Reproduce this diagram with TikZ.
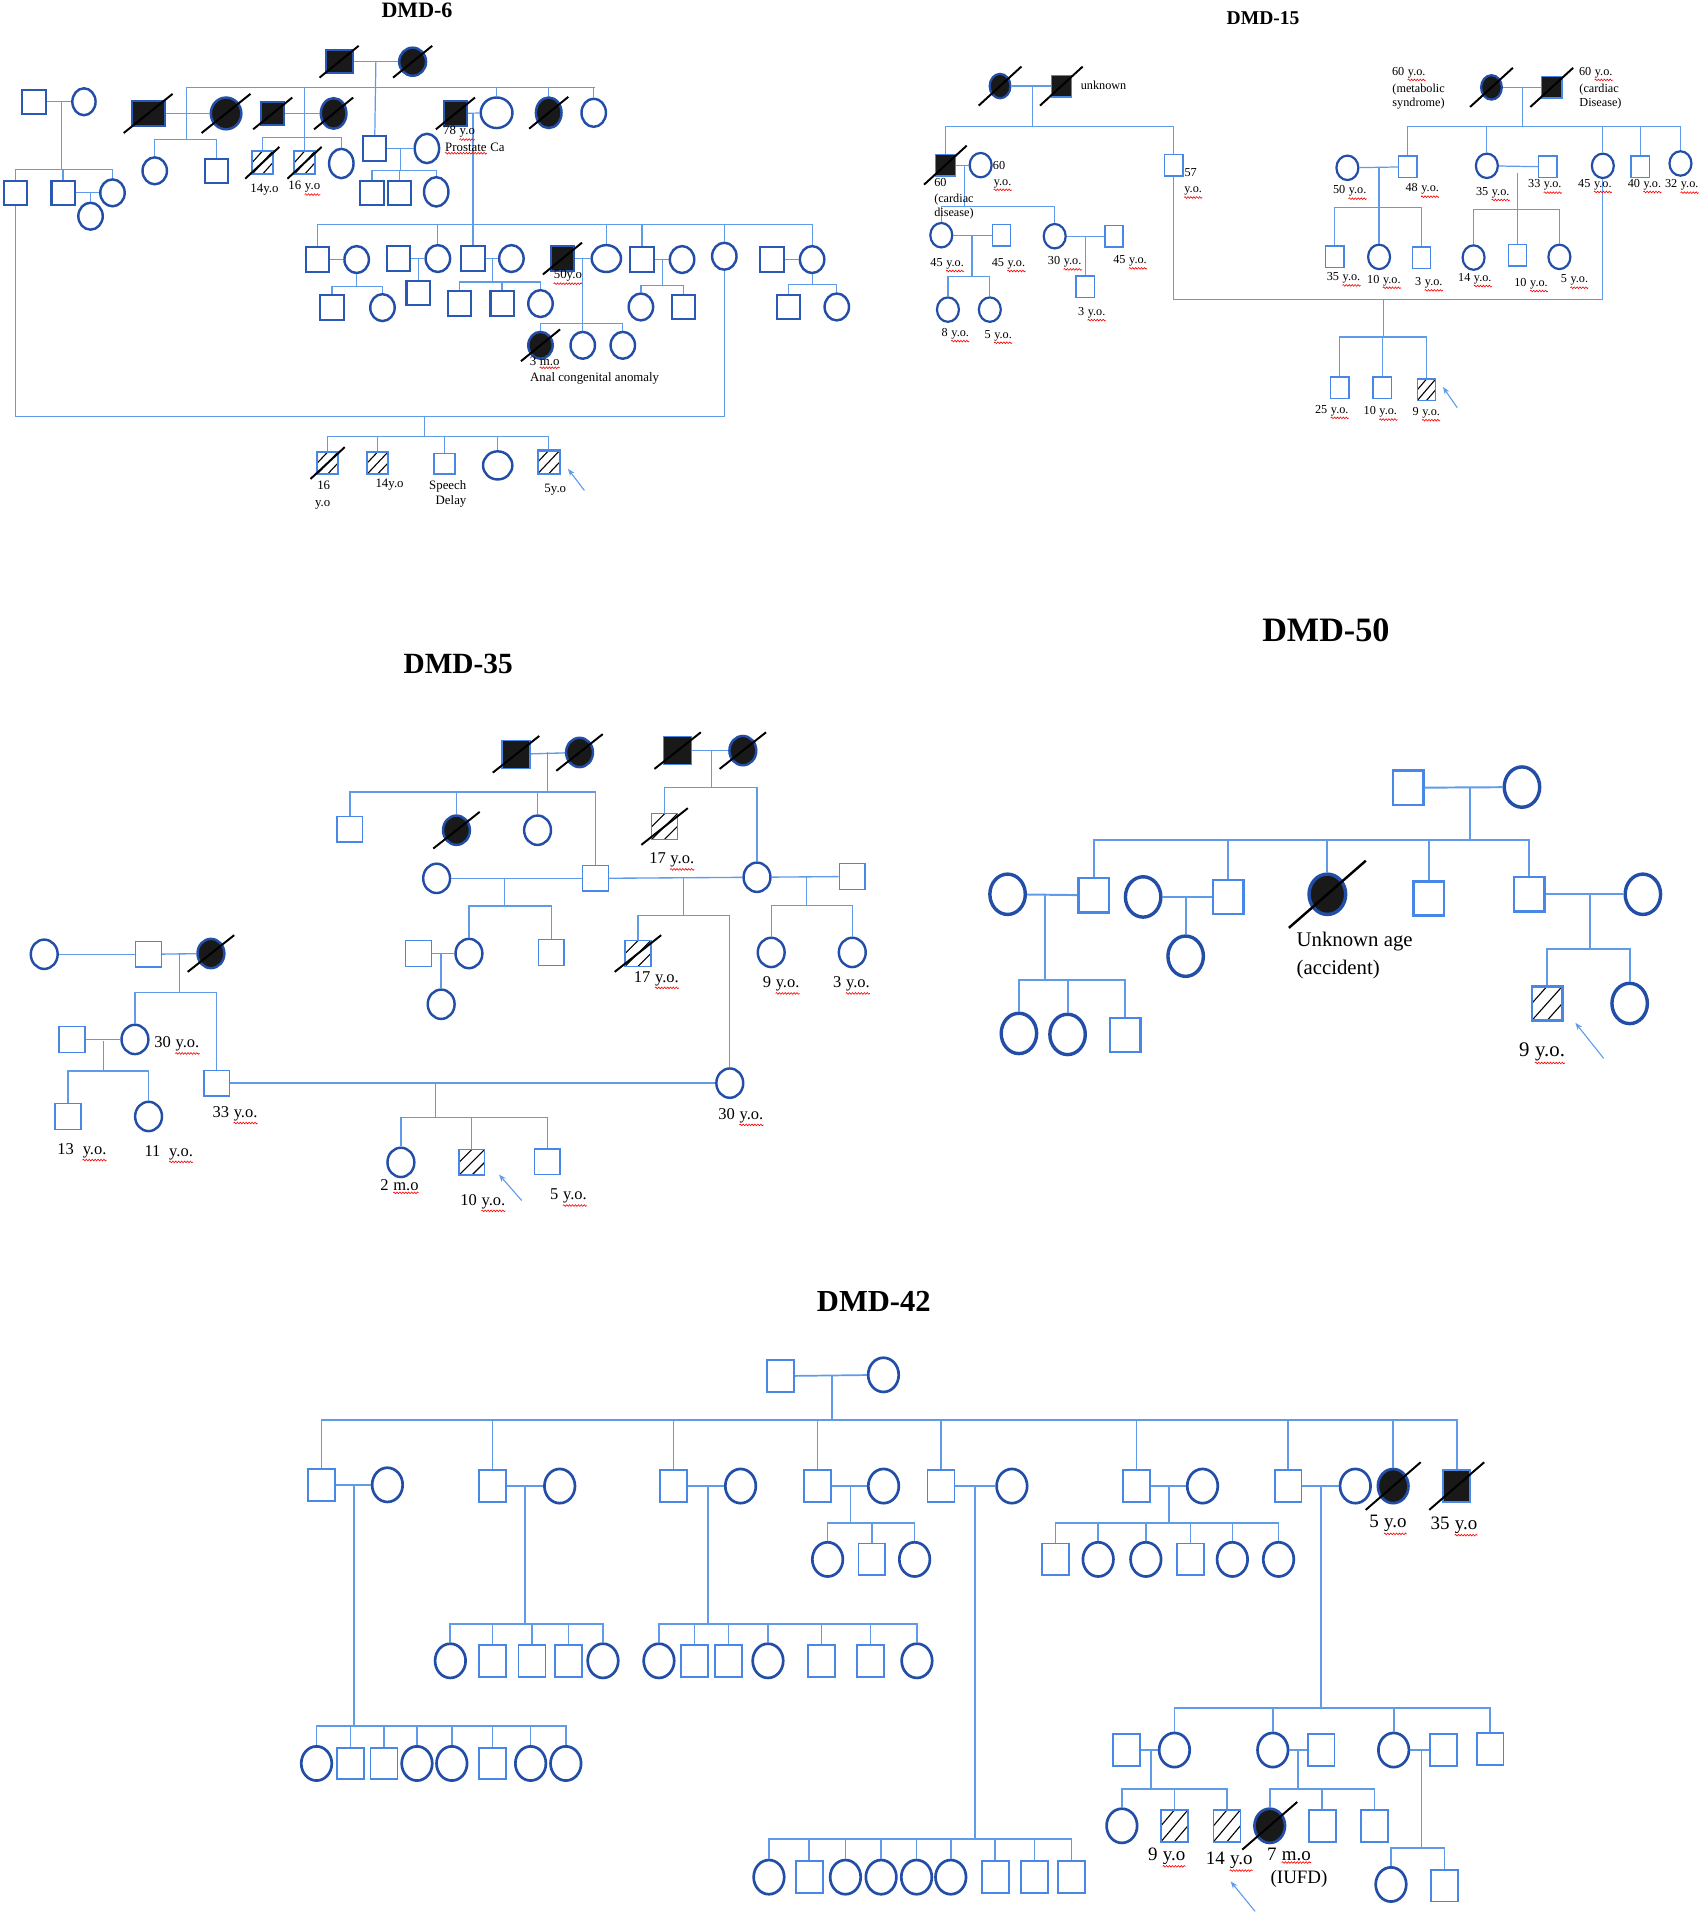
\documentclass[tikz,border=0pt]{standalone}
\usepackage{fontspec}
\setmainfont{Liberation Serif}
\usepackage{tikz}
\usetikzlibrary{calc}
\usetikzlibrary{shapes.geometric}
\usetikzlibrary{arrows.meta}
\usetikzlibrary{decorations.pathmorphing}

\definecolor{lineblue}{RGB}{95,155,235}
\definecolor{sqblue}{RGB}{72,135,232}
\definecolor{ciblue}{RGB}{35,78,168}

\newcommand\wavy[1]{\tikz[baseline=(wv.base)]{\node[inner sep=0pt, text=black] (wv) {#1};
  \draw[red, line width=0.5pt, decorate, decoration={snake, amplitude=0.7pt, segment length=2.4pt}]
    ([yshift=-1.5pt]wv.south west) -- ([yshift=-1.5pt]wv.south east);}}

\tikzset{
  male/.style={rectangle, draw=sqblue, line width=1.2pt, inner sep=0pt},
  female/.style={ellipse, draw=ciblue, line width=1.8pt, inner sep=0pt},
  aff/.style={fill=black!90},
  ma/.style={male,aff},
  fa/.style={female,aff},
  mh/.style={male,hatch},
  hatch/.style={path picture={
    \draw[black, line width=0.9pt]
      (path picture bounding box.south west) -- (path picture bounding box.north east)
      ($(path picture bounding box.south west)!0.5!(path picture bounding box.south east)$) -- ($(path picture bounding box.south east)!0.5!(path picture bounding box.north east)$)
      ($(path picture bounding box.south west)!0.5!(path picture bounding box.north west)$) -- ($(path picture bounding box.north west)!0.5!(path picture bounding box.north east)$);
  }},
  dead/.style={draw=black, line width=1.6pt},
  lab/.style={text=black, inner sep=0pt},
  ttl/.style={text=black, inner sep=0pt},
  arr/.style={-{Stealth[length=6pt,width=4.5pt]}, line width=0.9pt}
}

\begin{document}
\begin{tikzpicture}[x=1pt, y=-1pt, color=lineblue, line width=1pt]
\useasboundingbox (0,0) rectangle (1392,1567);

% ---------------- DMD-6
\begin{scope}[x=0.449pt, y=-0.273pt,
  male/.append style={minimum width=19pt, minimum height=20pt, draw=ciblue!80!sqblue, line width=1.7pt},
  female/.append style={minimum width=20pt, minimum height=22pt, line width=2pt},
  lab/.append style={font=\fontsize{10.5}{11}\selectfont}]
  \node[ttl, font=\bfseries\fontsize{18}{18}\selectfont] (At) at (760,30) {DMD-6};
  % generation I and II
  \node[ma, minimum width=22pt, minimum height=19pt] (A1) at (618,185) {};
  \node[fa, minimum width=22pt, minimum height=23pt] (A2) at (752,185) {};
  \node[male] (A3) at (62,305) {};
  \node[female, minimum width=19pt] (A4) at (153,305) {};
  \node[ma, minimum width=27pt] (A5) at (270,340) {};
  \node[fa, minimum width=25pt, minimum height=26pt] (A6) at (412,340) {};
  \node[ma, minimum height=19pt] (A7) at (497,340) {};
  \node[fa, minimum width=21pt, minimum height=25pt] (A8) at (608,340) {};
  \node[male] (A9) at (683,445) {};
  \node[female, minimum height=24pt] (A10) at (778,445) {};
  \node[ma] (A11) at (830,340) {};
  \node[female, minimum width=26pt, minimum height=25pt] (A13) at (905,338) {};
  \node[fa, minimum width=21pt, minimum height=25pt] (A14) at (1000,338) {};
  \node[female, minimum height=23pt] (A15) at (1082,338) {};
  \node[female] (A16) at (282,512) {};
  \node[male] (A17) at (395,512) {};
  \node[mh, minimum width=17pt, minimum height=19pt, draw=sqblue] (A18) at (478,488) {};
  \node[mh, minimum width=17pt, minimum height=19pt, draw=sqblue] (A19) at (555,488) {};
  \node[female, minimum height=24pt] (A20) at (622,490) {};
  \node[male] (A21) at (678,578) {};
  \node[male] (A22) at (728,578) {};
  \node[female, minimum height=24pt] (A23) at (795,575) {};
  \node[male] (A24) at (28,578) {};
  \node[male] (A25) at (115,578) {};
  \node[female] (A26) at (205,578) {};
  \node[female] (A27) at (165,648) {};
  % generation III
  \node[male] (A28) at (578,778) {};
  \node[female] (A29) at (650,778) {};
  \node[male] (A30) at (726,775) {};
  \node[female] (A31) at (798,775) {};
  \node[male] (A32) at (862,775) {};
  \node[female] (A33) at (932,775) {};
  \node[ma] (A34) at (1025,775) {};
  \node[female, minimum width=24pt] (A35) at (1105,775) {};
  \node[male] (A36) at (1170,778) {};
  \node[female] (A37) at (1243,778) {};
  \node[female] (A38) at (1320,768) {};
  \node[male] (A39) at (1407,778) {};
  \node[female] (A40) at (1480,778) {};
  % generation IV
  \node[male] (A41) at (605,922) {};
  \node[female] (A42) at (697,922) {};
  \node[male] (A43) at (762,878) {};
  \node[male] (A44) at (838,910) {};
  \node[male] (A45) at (915,910) {};
  \node[female] (A46) at (985,910) {};
  \node[fa] (A47) at (985,1035) {};
  \node[female] (A48) at (1062,1035) {};
  \node[female] (A49) at (1135,1035) {};
  \node[female] (A50) at (1168,920) {};
  \node[male] (A51) at (1245,920) {};
  \node[male] (A52) at (1437,920) {};
  \node[female] (A53) at (1525,920) {};
  \node[mh, minimum width=17pt, minimum height=18pt, draw=sqblue] (A54) at (597,1388) {};
  \node[mh, minimum width=17pt, minimum height=18pt, draw=sqblue] (A55) at (688,1388) {};
  \node[male, minimum width=17pt, minimum height=17pt, draw=sqblue, line width=1.2pt] (A56) at (810,1390) {};
  \node[female, minimum width=24pt, minimum height=23pt] (A57) at (907,1395) {};
  \node[mh, minimum width=18pt, minimum height=19pt, draw=sqblue] (A58) at (1000,1385) {};
  % lines
  \foreach \a/\b in {A1/A2,A3/A4,A5/A6,A7/A8,A9/A10,A11/A13,A25/A26,A28/A29,A30/A31,A32/A33,A34/A35,A36/A37,A39/A40}
    \draw (\a) -- (\b);
  \coordinate (A12) at (685,185);
  \coordinate (Asl) at (340,262);
  \coordinate (Asr) at (1085,262);
  \draw (Asl) -- (Asr);
  \draw (A12) -- (A9.north);
  \foreach \n in {A13,A14,A15} \draw (\n.north) -- (\n.north |- Asl);
  \coordinate (Ak1) at (340,418);
  \coordinate (Ak2) at (555,412);
  \draw (Asl) -- (Ak1);
  \draw (Ak2 |- Asl) -- (Ak2);
  \draw (A16.north) |- (Ak1) -| (A17.north);
  \draw (A18.north) |- (Ak2) -| (A20.north);
  \draw (Ak2) -- (A19.north);
  \coordinate (Ak3) at (730,445);
  \coordinate (Ak4) at (730,512);
  \draw (Ak3) -- (Ak4);
  \draw (A21.north) |- (Ak4) -| (A23.north);
  \draw (A22.north) -- (A22.north |- Ak4);
  \coordinate (Ak5) at (112,305);
  \coordinate (Ak6) at (112,508);
  \draw (Ak5) -- (Ak6);
  \draw (A24.north) |- (Ak6) -| (A26.north);
  \draw (A25.north) -- (A25.north |- Ak6);
  \coordinate (Ak7) at (165,578);
  \draw (Ak7) -- (A27.north);
  \coordinate (Ak8) at (862,340);
  \coordinate (Asl3) at (578,672);
  \coordinate (Asr3) at (1480,672);
  \draw (Asl3) -- (Asr3);
  \draw (Ak8) -- (A32.north);
  \foreach \n in {A28,A31,A35,A36,A38,A40} \draw (\n.north) -- (\n.north |- Asl3);
  \coordinate (Ak10) at (650,858);
  \draw (A29.south) -- (Ak10);
  \draw (A41.north) |- (Ak10) -| (A42.north);
  \coordinate (Ak11) at (762,775);
  \draw (Ak11) -- (A43.north);
  \coordinate (Ak12) at (897,775);
  \coordinate (Ak13) at (897,845);
  \draw (Ak12) -- (Ak13);
  \draw (A44.north) |- (Ak13) -| (A46.north);
  \draw (A45.north) -- (A45.north |- Ak13);
  \coordinate (Ak14) at (1062,775);
  \coordinate (Ak15) at (1062,970);
  \draw (Ak14) -- (A48.north);
  \draw (A47.north) |- (Ak15) -| (A49.north);
  \coordinate (Ak16) at (1207,778);
  \coordinate (Ak17) at (1207,855);
  \draw (Ak16) -- (Ak17);
  \draw (A50.north) |- (Ak17) -| (A51.north);
  \coordinate (Ak18) at (1480,852);
  \draw (A40.south) -- (Ak18);
  \draw (A52.north) |- (Ak18) -| (A53.north);
  \coordinate (Ab1) at (773,1248);
  \coordinate (Ab2) at (773,1308);
  \draw (A24.south) |- (Ab1) -| (A38.south);
  \draw (Ab1) -- (Ab2);
  \draw (A54.north) |- (Ab2) -| (A58.north);
  \foreach \n in {A55,A56,A57} \draw (\n.north) -- (\n.north |- Ab2);
  \foreach \n in {A1,A2,A7,A8,A11,A14,A34,A47}
    \draw[dead] ($(\n)+(-16pt,-13pt)$) -- ($(\n)+(16pt,13pt)$);
  \foreach \n in {A18,A19,A54}
    \draw[dead] ($(\n)+(-14pt,-13pt)$) -- ($(\n)+(14pt,13pt)$);
  \foreach \n in {A5,A6}
    \draw[dead] ($(\n)+(-20pt,-16pt)$) -- ($(\n)+(20pt,16pt)$);
  \coordinate (Aa1) at (1065,1470);
  \coordinate (Aa2) at (1035,1405);
  \draw[arr] (Aa1) -- (Aa2);
  % labels
  \node[lab] (Al1) at (837,400) {78 \wavy{y.o}};
  \node[lab] (Al2) at (865,445) {\wavy{Prostate} Ca};
  \node[lab] (Al3) at (482,567) {14y.o};
  \node[lab] (Al4) at (555,565) {16 \wavy{y.o}};
  \node[lab] (Al5) at (1035,832) {\wavy{50y.o}};
  \node[lab, anchor=west] (Al6) at (965,1088) {3 \wavy{m.o}};
  \node[lab, anchor=west] (Al7) at (965,1135) {Anal congenital anomaly};
  \node[lab] (Al8) at (590,1455) {16};
  \node[lab] (Al9) at (588,1513) {y.o};
  \node[lab] (Al10) at (710,1452) {14y.o};
  \node[lab] (Al11) at (816,1458) {Speech};
  \node[lab] (Al12) at (822,1503) {Delay};
  \node[lab] (Al13) at (1012,1468) {5y.o};
\end{scope}

% ---------------- DMD-15
\begin{scope}[shift={(736.8,0)}, x=0.418pt, y=-0.273pt,
  male/.append style={minimum width=15pt, minimum height=17.5pt},
  female/.append style={minimum width=18pt, minimum height=20pt},
  lab/.append style={font=\fontsize{10}{11}\selectfont}]
  \node[ttl, font=\bfseries\fontsize{16}{16}\selectfont] (Bt) at (710,55) {DMD-15};
  \node[fa, minimum width=17pt] (B1) at (195,258) {};
  \node[ma, minimum width=16.5pt] (B2) at (315,258) {};
  \node[ma, minimum width=16.5pt] (B3) at (88,495) {};
  \node[female] (B4) at (157,495) {};
  \node[male] (B5) at (535,495) {};
  \node[female] (B6) at (80,705) {};
  \node[male] (B7) at (198,705) {};
  \node[female] (B8) at (302,708) {};
  \node[male] (B9) at (418,708) {};
  \node[female] (B10) at (93,928) {};
  \node[female] (B11) at (175,928) {};
  \node[male] (B12) at (362,860) {};
  \node[fa, minimum width=17pt] (B13) at (1157,262) {};
  \node[ma, minimum width=16.5pt] (B14) at (1275,262) {};
  \node[female] (B15) at (875,503) {};
  \node[male] (B16) at (993,500) {};
  \node[female] (B17) at (1148,497) {};
  \node[male] (B18) at (1267,500) {};
  \node[female] (B19) at (1375,497) {};
  \node[male] (B20) at (1448,500) {};
  \node[female] (B21) at (1527,490) {};
  \node[male] (B22) at (850,770) {};
  \node[female] (B23) at (937,770) {};
  \node[male] (B24) at (1020,772) {};
  \node[female] (B25) at (1122,772) {};
  \node[male] (B26) at (1208,765) {};
  \node[female] (B27) at (1290,770) {};
  \node[male] (B28) at (860,1162) {};
  \node[male] (B29) at (943,1162) {};
  \node[mh] (B30) at (1030,1168) {};
  % lines
  \foreach \a/\b in {B1/B2,B3/B4,B6/B7,B8/B9,B13/B14,B15/B16,B17/B18}
    \draw (\a) -- (\b);
  \coordinate (Bk1) at (258,258);
  \coordinate (Bk2) at (258,378);
  \draw (Bk1) -- (Bk2);
  \draw (B3.north) |- (Bk2) -| (B5.north);
  \coordinate (Bk3) at (125,495);
  \coordinate (Bk4) at (125,618);
  \draw (Bk3) -- (Bk4);
  \draw (B6.north) |- (Bk4) -| (B8.north);
  \coordinate (Bk5) at (140,705);
  \coordinate (Bk6) at (140,828);
  \draw (Bk5) -- (Bk6);
  \draw (B10.north) |- (Bk6) -| (B11.north);
  \coordinate (Bk7) at (362,708);
  \draw (Bk7) -- (B12.north);
  \coordinate (Bk8) at (1217,262);
  \coordinate (Bk9) at (1217,380);
  \draw (Bk8) -- (Bk9);
  \draw (B16.north) |- (Bk9) -| (B21.north);
  \foreach \n in {B17,B19,B20} \draw (\n.north) -- (\n.north |- Bk9);
  \coordinate (Bk10) at (937,503);
  \coordinate (Bk11) at (937,622);
  \draw (Bk10) -- (B23.north);
  \draw (B22.north) |- (Bk11) -| (B24.north);
  \coordinate (Bk12) at (1208,518);
  \coordinate (Bk13) at (1208,628);
  \draw (Bk12) -- (B26.north);
  \draw (B25.north) |- (Bk13) -| (B27.north);
  \coordinate (Bb1) at (945,898);
  \coordinate (Bb2) at (945,1010);
  \draw (B5.south) |- (Bb1) -| (B19.south);
  \draw (Bb1) -- (Bb2);
  \draw (B28.north) |- (Bb2) -| (B30.north);
  \draw (B29.north) -- (B29.north |- Bb2);
  \foreach \n in {B1,B2,B3,B13,B14}
    \draw[dead] ($(\n)+(-17.5pt,-16pt)$) -- ($(\n)+(17.5pt,16pt)$);
  \coordinate (Ba1) at (1090,1222);
  \coordinate (Ba2) at (1062,1160);
  \draw[arr] (Ba1) -- (Ba2);
  % labels
  \node[lab, anchor=west] (Bl1) at (352,255) {unknown};
  \node[lab, anchor=west] (Bl2) at (180,495) {60};
  \node[lab] (Bl3) at (200,555) {\wavy{y.o.}};
  \node[lab, anchor=west] (Bl4) at (65,548) {60};
  \node[lab, anchor=west] (Bl5) at (65,598) {(cardiac};
  \node[lab, anchor=west] (Bl6) at (65,640) {disease)};
  \node[lab, anchor=west] (Bl7) at (555,517) {57};
  \node[lab] (Bl8) at (573,578) {\wavy{y.o.}};
  \node[lab] (Bl9) at (92,795) {45 \wavy{y.o.}};
  \node[lab] (Bl10) at (212,795) {45 \wavy{y.o.}};
  \node[lab] (Bl11) at (322,790) {30 \wavy{y.o.}};
  \node[lab] (Bl12) at (450,787) {45 \wavy{y.o.}};
  \node[lab] (Bl13) at (108,1005) {8 \wavy{y.o.}};
  \node[lab] (Bl14) at (192,1010) {5 \wavy{y.o.}};
  \node[lab] (Bl15) at (375,942) {3 \wavy{y.o.}};
  \node[lab, anchor=west] (Bl16) at (962,222) {60 \wavy{y.o.}};
  \node[lab, anchor=west] (Bl17) at (962,267) {(metabolic};
  \node[lab, anchor=west] (Bl18) at (962,310) {syndrome)};
  \node[lab, anchor=west] (Bl19) at (1328,222) {60 \wavy{y.o.}};
  \node[lab, anchor=west] (Bl20) at (1328,267) {(cardiac};
  \node[lab, anchor=west] (Bl21) at (1328,310) {Disease)};
  \node[lab] (Bl22) at (880,578) {50 \wavy{y.o.}};
  \node[lab] (Bl23) at (1022,572) {48 \wavy{y.o.}};
  \node[lab] (Bl24) at (1160,582) {35 \wavy{y.o.}};
  \node[lab] (Bl25) at (1262,560) {33 \wavy{y.o.}};
  \node[lab] (Bl26) at (1360,558) {45 \wavy{y.o.}};
  \node[lab] (Bl27) at (1457,558) {40 \wavy{y.o.}};
  \node[lab] (Bl28) at (1530,560) {32 \wavy{y.o.}};
  \node[lab] (Bl29) at (868,838) {35 \wavy{y.o.}};
  \node[lab] (Bl30) at (947,845) {10 \wavy{y.o.}};
  \node[lab] (Bl31) at (1035,853) {3 \wavy{y.o.}};
  \node[lab] (Bl32) at (1125,840) {14 \wavy{y.o.}};
  \node[lab] (Bl33) at (1235,855) {10 \wavy{y.o.}};
  \node[lab] (Bl34) at (1320,845) {5 \wavy{y.o.}};
  \node[lab] (Bl35) at (845,1235) {25 \wavy{y.o.}};
  \node[lab] (Bl36) at (940,1240) {10 \wavy{y.o.}};
  \node[lab] (Bl37) at (1030,1242) {9 \wavy{y.o.}};
\end{scope}

% ---------------- DMD-35
\begin{scope}[shift={(0,523.3)}, x=0.464pt, y=-0.303pt, line width=1.1pt,
  male/.append style={minimum width=21pt, minimum height=21pt},
  female/.append style={minimum width=22pt, minimum height=24pt, line width=2pt},
  lab/.append style={font=\fontsize{13.5}{14}\selectfont}]
  \node[ttl, font=\bfseries\fontsize{24}{24}\selectfont] (Ct) at (808,65) {DMD-35};
  \node[ma, minimum width=23pt, minimum height=23pt] (C1) at (910,310) {};
  \node[fa] (C2) at (1022,305) {};
  \node[ma, minimum width=23pt, minimum height=23pt] (C3) at (1195,300) {};
  \node[fa] (C4) at (1310,300) {};
  \node[male] (C5) at (617,512) {};
  \node[fa] (C6) at (805,515) {};
  \node[female] (C7) at (948,515) {};
  \node[male] (C8) at (1050,645) {};
  \node[mh] (C9) at (1172,505) {};
  \node[female] (C10) at (1335,642) {};
  \node[female] (C11) at (770,645) {};
  \node[male] (C12) at (738,848) {};
  \node[female] (C13) at (827,848) {};
  \node[male] (C14) at (972,845) {};
  \node[female] (C15) at (778,985) {};
  \node[mh] (C16) at (1125,848) {};
  \node[female] (C17) at (1287,1198) {};
  \node[male] (C18) at (1503,640) {};
  \node[female] (C19) at (1360,845) {};
  \node[female] (C20) at (1503,845) {};
  \node[female] (C21) at (78,850) {};
  \node[male] (C22) at (262,850) {};
  \node[fa] (C23) at (372,848) {};
  \node[female] (C24) at (238,1080) {};
  \node[male] (C25) at (382,1198) {};
  \node[male] (C26) at (127,1080) {};
  \node[male] (C27) at (120,1288) {};
  \node[female] (C28) at (262,1288) {};
  \node[female] (C29) at (707,1412) {};
  \node[mh] (C30) at (832,1412) {};
  \node[male] (C31) at (965,1410) {};
  % lines
  \foreach \a/\b in {C1/C2,C3/C4,C11/C8,C8/C10,C10/C18,C12/C13,C21/C22,C22/C23,C26/C24,C25/C17}
    \draw (\a) -- (\b);
  \coordinate (Ck1) at (965,305);
  \coordinate (Ck2) at (965,412);
  \draw (Ck1) -- (Ck2);
  \draw (C5.north) |- (Ck2) -| (C8.north);
  \foreach \n in {C6,C7} \draw (\n.north) -- (\n.north |- Ck2);
  \coordinate (Ck3) at (1255,300);
  \coordinate (Ck4) at (1255,400);
  \draw (Ck3) -- (Ck4);
  \draw (C9.north) |- (Ck4) -| (C10.north);
  \coordinate (Ck5) at (890,645);
  \coordinate (Ck6) at (890,720);
  \draw (Ck5) -- (Ck6);
  \draw (C13.north) |- (Ck6) -| (C14.north);
  \coordinate (Ck7) at (778,848);
  \draw (Ck7) -- (C15.north);
  \coordinate (Ck8) at (1205,642);
  \coordinate (Ck9) at (1205,745);
  \draw (Ck8) -- (Ck9);
  \draw (C16.north) |- (Ck9) -| (C17.north);
  \coordinate (Ck10) at (1422,642);
  \coordinate (Ck11) at (1422,718);
  \draw (Ck10) -- (Ck11);
  \draw (C19.north) |- (Ck11) -| (C20.north);
  \coordinate (Ck12) at (317,850);
  \coordinate (Ck13) at (317,953);
  \draw (Ck12) -- (Ck13);
  \draw (C24.north) |- (Ck13) -| (C25.north);
  \coordinate (Ck14) at (182,1083);
  \coordinate (Ck15) at (182,1165);
  \draw (Ck14) -- (Ck15);
  \draw (C27.north) |- (Ck15) -| (C28.north);
  \coordinate (Ck16) at (768,1198);
  \coordinate (Ck17) at (768,1290);
  \draw (Ck16) -- (Ck17);
  \draw (C29.north) |- (Ck17) -| (C31.north);
  \draw (C30.north) -- (C30.north |- Ck17);
  \foreach \n in {C1,C2,C3,C4,C6,C9,C16,C23}
    \draw[dead] ($(\n)+(-19pt,-15pt)$) -- ($(\n)+(19pt,15pt)$);
  \coordinate (Ca1) at (920,1515);
  \coordinate (Ca2) at (880,1445);
  \draw[arr] (Ca1) -- (Ca2);
  % labels
  \node[lab] (Cl1) at (1185,600) {17 \wavy{y.o.}};
  \node[lab] (Cl2) at (1158,920) {17 \wavy{y.o.}};
  \node[lab] (Cl3) at (1378,935) {9 \wavy{y.o.}};
  \node[lab] (Cl4) at (1502,935) {3 \wavy{y.o.}};
  \node[lab, anchor=west] (Cl5) at (272,1097) {30 \wavy{y.o.}};
  \node[lab] (Cl6) at (415,1285) {33 \wavy{y.o.}};
  \node[lab] (Cl7) at (1307,1290) {30 \wavy{y.o.}};
  \node[lab] (Cl8) at (145,1385) {13\enspace\wavy{y.o.}};
  \node[lab] (Cl9) at (298,1390) {11\enspace\wavy{y.o.}};
  \node[lab] (Cl10) at (705,1478) {2 \wavy{m.o}};
  \node[lab] (Cl11) at (852,1522) {10 \wavy{y.o.}};
  \node[lab] (Cl12) at (1003,1508) {5 \wavy{y.o.}};
\end{scope}

% ---------------- DMD-50
\begin{scope}[shift={(786.6,491.5)}, x=0.3865pt, y=-0.2724pt, line width=1.6pt,
  male/.append style={minimum width=25pt, minimum height=28pt, line width=2pt},
  female/.append style={minimum width=29pt, minimum height=33pt, line width=2.8pt},
  lab/.append style={font=\fontsize{17}{18}\selectfont}]
  \node[ttl, font=\bfseries\fontsize{28}{28}\selectfont] (Dt) at (772,90) {DMD-50};
  \node[male] (D1) at (946,562) {};
  \node[female] (D2) at (1187,560) {};
  \node[male] (D3) at (280,885) {};
  \node[male] (D4) at (565,890) {};
  \node[fa, minimum width=30pt] (D5) at (775,882) {};
  \node[male] (D6) at (990,895) {};
  \node[male] (D7) at (1202,882) {};
  \node[female] (D8) at (98,882) {};
  \node[female] (D9) at (122,1300) {};
  \node[female] (D10) at (225,1303) {};
  \node[male] (D11) at (347,1305) {};
  \node[female] (D12) at (385,890) {};
  \node[female] (D13) at (475,1068) {};
  \node[female] (D14) at (1443,882) {};
  \node[mh] (D15) at (1240,1210) {};
  \node[female] (D16) at (1415,1210) {};
  % lines
  \foreach \a/\b in {D1/D2,D8/D3,D12/D4,D7/D14}
    \draw (\a) -- (\b);
  \coordinate (Dk1) at (1077,562);
  \coordinate (Dk2) at (1077,720);
  \draw (Dk1) -- (Dk2);
  \draw (D3.north) |- (Dk2) -| (D7.north);
  \foreach \n in {D4,D5,D6} \draw (\n.north) -- (\n.north |- Dk2);
  \coordinate (Dk3) at (178,885);
  \coordinate (Dk4) at (178,1140);
  \draw (Dk3) -- (Dk4);
  \draw (D9.north) |- (Dk4) -| (D11.north);
  \draw (D10.north) -- (D10.north |- Dk4);
  \coordinate (Dk5) at (475,893);
  \draw (Dk5) -- (D13.north);
  \coordinate (Dk6) at (1332,885);
  \coordinate (Dk7) at (1332,1045);
  \draw (Dk6) -- (Dk7);
  \draw (D15.north) |- (Dk7) -| (D16.north);
  \draw[dead, line width=2pt] ($(D5)+(-31.5pt,-27.5pt)$) -- ($(D5)+(31.5pt,27.5pt)$);
  \coordinate (Da1) at (1360,1375);
  \coordinate (Da2) at (1300,1268);
  \draw[arr] (Da1) -- (Da2);
  % labels
  \node[lab, anchor=west] (Dl1) at (708,1025) {Unknown age};
  \node[lab, anchor=west] (Dl2) at (708,1108) {(accident)};
  \node[lab] (Dl3) at (1230,1360) {9 \wavy{y.o.}};
\end{scope}

% ---------------- DMD-42
\begin{scope}[line width=1.4pt,
  male/.append style={minimum width=22pt, minimum height=26pt, line width=1.5pt},
  female/.append style={minimum width=25pt, minimum height=28pt, line width=2.2pt},
  lab/.append style={font=\fontsize{15.5}{16}\selectfont}]
  \node[ttl, font=\bfseries\fontsize{25}{25}\selectfont] (Et) at (715,1065) {DMD-42};
  \node[male] (E1) at (638.6,1126) {};
  \node[female] (E2) at (722.9,1125) {};
  \node[male] (E3) at (263,1215) {};
  \node[female] (E4) at (317,1215) {};
  \node[male] (E5) at (403,1216) {};
  \node[female] (E6) at (458,1216) {};
  \node[male] (E7) at (551,1216) {};
  \node[female] (E8) at (606,1216) {};
  \node[male] (E9) at (669,1216) {};
  \node[female] (E10) at (723,1216) {};
  \node[male] (E11) at (770,1216) {};
  \node[female] (E12) at (828,1216) {};
  \node[male] (E13) at (930,1216) {};
  \node[female] (E14) at (984,1216) {};
  \node[male] (E15) at (1054,1216) {};
  \node[female] (E17) at (1109,1216) {};
  \node[fa] (E18) at (1140,1216) {};
  \node[ma] (E19) at (1192,1216) {};
  \node[male] (E20) at (922,1432) {};
  \node[female] (E21) at (961,1432) {};
  \node[female] (E22) at (1041.5,1432) {};
  \node[male] (E23) at (1081,1432) {};
  \node[female] (E24) at (1140.4,1432) {};
  \node[male] (E25) at (1181,1432) {};
  \node[male] (E26) at (1219.3,1431) {};
  \foreach \s/\x [count=\i] in {female/259,male/286.8,male/314.2,female/341.2,female/369.7,male/403,female/434.2,female/463}
    \node[\s] (Ea\i) at (\x,1443) {};
  \foreach \s/\x [count=\i] in {female/368.5,male/403,male/435.3,male/465.3,female/493.4}
    \node[\s] (Eb\i) at (\x,1359) {};
  \foreach \s/\x [count=\i] in {female/539.2,male/568.4,male/596.2,female/628.4,male/672.3,male/712.4,female/750.3}
    \node[\s] (Ec\i) at (\x,1359) {};
  \foreach \s/\x [count=\i] in {female/677.2,male/713.5,female/748.4}
    \node[\s] (Ed\i) at (\x,1276) {};
  \foreach \s/\x [count=\i] in {female/629.2,male/662.2,female/691.8,female/721,female/750,female/778,male/814.4,male/846.5,male/876.8}
    \node[\s] (Ee\i) at (\x,1536) {};
  \foreach \s/\x [count=\i] in {male/863.7,female/898.6,female/937.6,male/974.1,female/1008.4,female/1046.2}
    \node[\s] (Ef\i) at (\x,1276) {};
  \foreach \s/\x [count=\i] in {female/918,mh/961,mh/1004}
    \node[\s] (Eg\i) at (\x,1494) {};
  \foreach \s/\x [count=\i] in {fa/1039,male/1082,male/1124.8}
    \node[\s] (Eh\i) at (\x,1494) {};
  \node[female] (Ei1) at (1138.2,1542) {};
  \node[male] (Ei2) at (1181.9,1543) {};
  % lines
  \foreach \a/\b in {E1/E2,E3/E4,E5/E6,E7/E8,E9/E10,E11/E12,E13/E14,E15/E17,E20/E21,E22/E23,E24/E25}
    \draw (\a) -- (\b);
  \coordinate (Ek1) at (681,1125);
  \coordinate (Ek2) at (681,1161.7);
  \draw (Ek1) -- (Ek2);
  \draw (E3.north) |- (Ek2) -| (E19.north);
  \foreach \n in {E5,E7,E9,E11,E13,E15,E18} \draw (\n.north) -- (\n.north |- Ek2);
  \coordinate (Ek3) at (289.8,1215);
  \coordinate (Ek4) at (289.8,1412.5);
  \draw (Ek3) -- (Ek4);
  \draw (Ea1.north) |- (Ek4) -| (Ea8.north);
  \foreach \i in {2,...,7} \draw (Ea\i.north) -- (Ea\i.north |- Ek4);
  \coordinate (Ek5) at (429.7,1216);
  \coordinate (Ek6) at (429.7,1329);
  \draw (Ek5) -- (Ek6);
  \draw (Eb1.north) |- (Ek6) -| (Eb5.north);
  \foreach \i in {2,...,4} \draw (Eb\i.north) -- (Eb\i.north |- Ek6);
  \coordinate (Ek7) at (579.3,1216);
  \coordinate (Ek8) at (579.3,1329);
  \draw (Ek7) -- (Ek8);
  \draw (Ec1.north) |- (Ek8) -| (Ec7.north);
  \foreach \i in {2,...,6} \draw (Ec\i.north) -- (Ec\i.north |- Ek8);
  \coordinate (Ek9) at (695.9,1216);
  \coordinate (Ek10) at (695.9,1246.5);
  \draw (Ek9) -- (Ek10);
  \draw (Ed1.north) |- (Ek10) -| (Ed3.north);
  \draw (Ed2.north) -- (Ed2.north |- Ek10);
  \coordinate (Ek11) at (797.9,1216);
  \coordinate (Ek12) at (797.9,1505);
  \draw (Ek11) -- (Ek12);
  \draw (Ee1.north) |- (Ek12) -| (Ee9.north);
  \foreach \i in {2,...,8} \draw (Ee\i.north) -- (Ee\i.north |- Ek12);
  \coordinate (Ek13) at (956.3,1216);
  \coordinate (Ek14) at (956.3,1246);
  \draw (Ek13) -- (Ek14);
  \draw (Ef1.north) |- (Ek14) -| (Ef6.north);
  \foreach \i in {2,...,5} \draw (Ef\i.north) -- (Ef\i.north |- Ek14);
  \coordinate (Ek15) at (1081.1,1216);
  \coordinate (Ek16) at (1081.1,1397.7);
  \draw (Ek15) -- (Ek16);
  \draw (E21.north) |- (Ek16) -| (E26.north);
  \foreach \n in {E22,E24} \draw (\n.north) -- (\n.north |- Ek16);
  \coordinate (Ek17) at (941.7,1432);
  \coordinate (Ek18) at (941.7,1464);
  \draw (Ek17) -- (Ek18);
  \draw (Eg1.north) |- (Ek18) -| (Eg3.north);
  \draw (Eg2.north) -- (Eg2.north |- Ek18);
  \coordinate (Ek19) at (1062.4,1432);
  \coordinate (Ek20) at (1062.4,1464);
  \draw (Ek19) -- (Ek20);
  \draw (Eh1.north) |- (Ek20) -| (Eh3.north);
  \draw (Eh2.north) -- (Eh2.north |- Ek20);
  \coordinate (Ek21) at (1163.2,1432);
  \coordinate (Ek22) at (1163.2,1512);
  \draw (Ek21) -- (Ek22);
  \draw (Ei1.north) |- (Ek22) -| (Ei2.north);
  \foreach \n in {E18,E19,Eh1}
    \draw[dead] ($(\n)+(-22.5pt,-19.5pt)$) -- ($(\n)+(22.5pt,19.5pt)$);
  \coordinate (Ea01) at (1027,1564);
  \coordinate (Ea02) at (1007,1539.5);
  \draw[arr] (Ea01) -- (Ea02);
  % labels
  \node[lab] (El1) at (1136,1248) {5 \wavy{y.o}};
  \node[lab] (El2) at (1190,1249) {35 \wavy{y.o}};
  \node[lab] (El3) at (955,1520) {9 \wavy{y.o}};
  \node[lab] (El4) at (1006,1523.5) {14 \wavy{y.o}};
  \node[lab] (El5) at (1055,1518.5) {7 \wavy{m.o}};
  \node[lab] (El6) at (1063,1537.7) {(IUFD)};
\end{scope}
\end{tikzpicture}
\end{document}
